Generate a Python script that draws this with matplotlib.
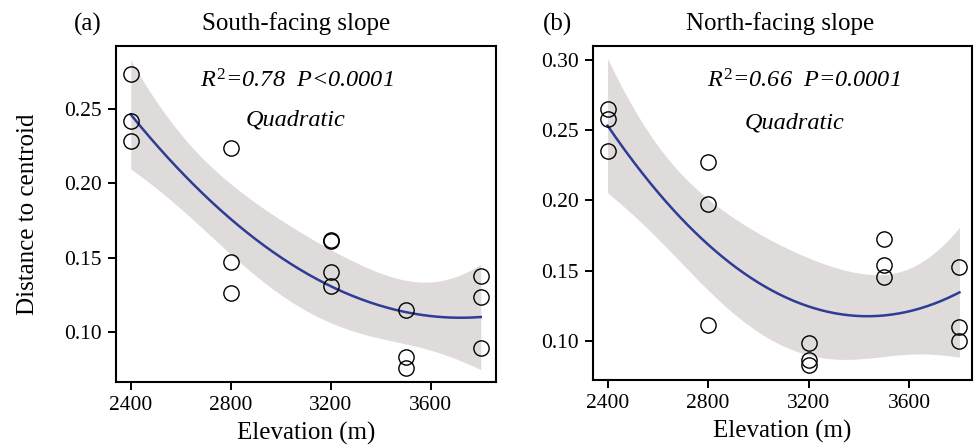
import numpy as np
import matplotlib
matplotlib.use("Agg")
import matplotlib.pyplot as plt

plt.rcParams['font.family'] = ['Liberation Serif', 'DejaVu Serif']
plt.rcParams['mathtext.fontset'] = 'custom'
plt.rcParams['mathtext.rm'] = 'Liberation Serif'
plt.rcParams['mathtext.it'] = 'Liberation Serif:italic'

# ---- data ----
south_elev = [2400, 2400, 2400, 2800, 2800, 2800, 3200, 3200, 3200, 3200,
              3500, 3500, 3500, 3800, 3800, 3800]
south_dist = [0.2735, 0.2421, 0.2287, 0.2240, 0.1473, 0.1267, 0.1618, 0.1612,
              0.1402, 0.1310, 0.1150, 0.0836, 0.0762, 0.1377, 0.1240, 0.0892]
north_elev = [2400, 2400, 2400, 2800, 2800, 2800, 3200, 3200, 3200,
              3500, 3500, 3500, 3800, 3800, 3800]
north_dist = [0.2650, 0.2583, 0.2353, 0.2271, 0.1971, 0.1112, 0.0981, 0.0863,
              0.0827, 0.1723, 0.1543, 0.1455, 0.1526, 0.1100, 0.1000]

panel_labels = ["(a)", "(b)"]
titles = ["South-facing slope", "North-facing slope"]
stats = ["$R^2$=0.78  $P$<0.0001", "$R^2$=0.66  $P$=0.0001"]
x_ticks = [2400, 2800, 3200, 3600]
y_ticks_a = [0.10, 0.15, 0.20, 0.25]
y_ticks_b = [0.10, 0.15, 0.20, 0.25, 0.30]
t_crit = [2.160, 2.179]

W, H = 974, 446
fig = plt.figure(figsize=(W / 100, H / 100), dpi=100)
axA = fig.add_axes([116 / W, 1 - 382 / H, (496 - 116) / W, (382 - 46) / H])
axB = fig.add_axes([593 / W, 1 - 380 / H, (972 - 593) / W, (380 - 46) / H])

band_color = '#DEDBDA'
line_color = '#2E3C94'


def draw(ax, xs, ys, tcrit, xlim, ylim, yticks):
    x = np.asarray(xs, float)
    y = np.asarray(ys, float)
    X = np.column_stack([np.ones_like(x), x, x ** 2])
    beta, res, rank, sv = np.linalg.lstsq(X, y, rcond=None)
    resid = y - X @ beta
    dof = len(x) - 3
    s2 = resid @ resid / dof
    cov = s2 * np.linalg.inv(X.T @ X)
    xg = np.linspace(x.min(), x.max(), 200)
    Xg = np.column_stack([np.ones_like(xg), xg, xg ** 2])
    yg = Xg @ beta
    se = np.sqrt(np.einsum('ij,jk,ik->i', Xg, cov, Xg))
    ax.fill_between(xg, yg - tcrit * se, yg + tcrit * se, color=band_color, lw=0, zorder=1)
    ax.plot(xg, yg, color=line_color, lw=1.8, zorder=2)
    ax.plot(x, y, 'o', ms=11, mfc='none', mec='black', mew=1.0, zorder=3)
    ax.set_xlim(*xlim)
    ax.set_ylim(*ylim)
    ax.set_xticks(x_ticks)
    ax.set_yticks(yticks)
    ax.set_yticklabels([f"{v:.2f}" for v in yticks])
    ax.tick_params(direction='out', length=6, width=1.4, labelsize=15.5, pad=4)
    for sp in ax.spines.values():
        sp.set_linewidth(1.5)
    ax.set_xlabel("Elevation (m)", fontsize=18, labelpad=5)


draw(axA, south_elev, south_dist, t_crit[0], (2341, 3861), (0.0666, 0.2923), y_ticks_a)
draw(axB, north_elev, north_dist, t_crit[1], (2342, 3850), (0.072, 0.310), y_ticks_b)
axA.set_ylabel("Distance to centroid", fontsize=18, labelpad=18)

# titles and panel labels (figure coordinates in pixels)
fig.text(88 / W, 1 - 24 / H, panel_labels[0], fontsize=18, ha='center', va='center')
fig.text(296 / W, 1 - 24 / H, titles[0], fontsize=18, ha='center', va='center')
fig.text(558 / W, 1 - 24 / H, panel_labels[1], fontsize=18, ha='center', va='center')
fig.text(780 / W, 1 - 24 / H, titles[1], fontsize=18, ha='center', va='center')

fig.text(297 / W, 1 - 81 / H, stats[0], fontsize=17.5, style='italic', ha='center', va='center')
fig.text(296 / W, 1 - 120 / H, "Quadratic", fontsize=17.5, style='italic', ha='center', va='center')
fig.text(804 / W, 1 - 81 / H, stats[1], fontsize=17.5, style='italic', ha='center', va='center')
fig.text(795 / W, 1 - 123 / H, "Quadratic", fontsize=17.5, style='italic', ha='center', va='center')

fig.savefig("out.png", dpi=100)
